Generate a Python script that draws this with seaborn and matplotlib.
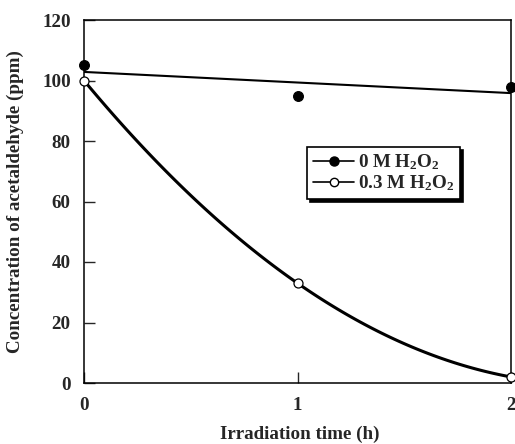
import matplotlib
matplotlib.use("Agg")
import matplotlib.pyplot as plt
from matplotlib.lines import Line2D
import seaborn as sns
import pandas as pd

# Data
time_h = [0, 1, 2]
conc_0M = [105, 95, 98]
conc_03M = [100, 33, 2]
labels = [r"0 M H$_{\mathrm{2}}$O$_{\mathrm{2}}$", r"0.3 M H$_{\mathrm{2}}$O$_{\mathrm{2}}$"]
x_ticks = [0, 1, 2]
y_ticks = [0, 20, 40, 60, 80, 100, 120]

sns.set_style("ticks")
plt.rcParams["font.family"] = ["Liberation Serif", "DejaVu Serif"]
plt.rcParams["font.weight"] = "bold"
plt.rcParams["mathtext.fontset"] = "custom"
plt.rcParams["mathtext.rm"] = "Liberation Serif:bold"
plt.rcParams["mathtext.it"] = "Liberation Serif:italic:bold"
plt.rcParams["mathtext.bf"] = "Liberation Serif:bold"
plt.rcParams["mathtext.default"] = "rm"

df0 = pd.DataFrame({"t": time_h, "c": conc_0M})
df3 = pd.DataFrame({"t": time_h, "c": conc_03M})

fig = plt.figure(figsize=(5.15, 4.44), dpi=100)
ax = fig.add_axes([84 / 515, 1 - 383 / 444, 427 / 515, 363 / 444])

# trend lines
sns.regplot(data=df0, x="t", y="c", order=1, ci=None, scatter=False, ax=ax,
            line_kws=dict(color="black", lw=1.5), truncate=True)
sns.regplot(data=df3, x="t", y="c", order=2, ci=None, scatter=False, ax=ax,
            line_kws=dict(color="black", lw=2.2), truncate=True)
# points
sns.scatterplot(data=df0, x="t", y="c", ax=ax, color="black", s=50,
                edgecolor="black", linewidth=0.8, zorder=5, clip_on=False)
sns.scatterplot(data=df3, x="t", y="c", ax=ax, color="white", s=42,
                edgecolor="black", linewidth=0.9, zorder=5, clip_on=False)

ax.set_xlim(0, 2)
ax.set_ylim(0, 120)
ax.set_xticks(x_ticks)
ax.set_yticks(y_ticks)
ax.tick_params(direction="in", length=8, width=1, labelsize=13.7)
ax.tick_params(axis="y", pad=9.5)
ax.tick_params(axis="x", pad=10)
for lab in ax.get_xticklabels() + ax.get_yticklabels():
    lab.set_fontweight("bold")
for sp in ax.spines.values():
    sp.set_visible(True)
    sp.set_linewidth(1.1)
    sp.set_color("black")

ax.set_xlabel("Irradiation time (h)", fontsize=13.7, fontweight="bold", va="center")
ax.set_ylabel("Concentration of acetaldehyde (ppm)", fontsize=13.7, fontweight="bold", va="center")
ax.xaxis.set_label_coords(0.505, -0.1405)
ax.yaxis.set_label_coords(-0.1616, 0.5)

handles = [
    Line2D([], [], color="black", lw=1.2, marker="o", markersize=6.5,
           markerfacecolor="black", markeredgecolor="black"),
    Line2D([], [], color="black", lw=1.2, marker="o", markersize=6,
           markerfacecolor="white", markeredgecolor="black"),
]
leg = ax.legend(handles, labels, loc="upper left", bbox_to_anchor=(0.522, 0.650),
                borderaxespad=0, frameon=True, fancybox=False,
                shadow={"color": "black", "alpha": 1.0, "ox": 2, "oy": -2},
                prop={"family": ["Liberation Serif", "DejaVu Serif"], "weight": "bold", "size": 13.7},
                handlelength=2.2, handletextpad=0.2, labelspacing=0.05,
                borderpad=0.3)
leg.get_frame().set_edgecolor("black")
leg.get_frame().set_linewidth(1.2)

fig.savefig("out.png", dpi=100)
